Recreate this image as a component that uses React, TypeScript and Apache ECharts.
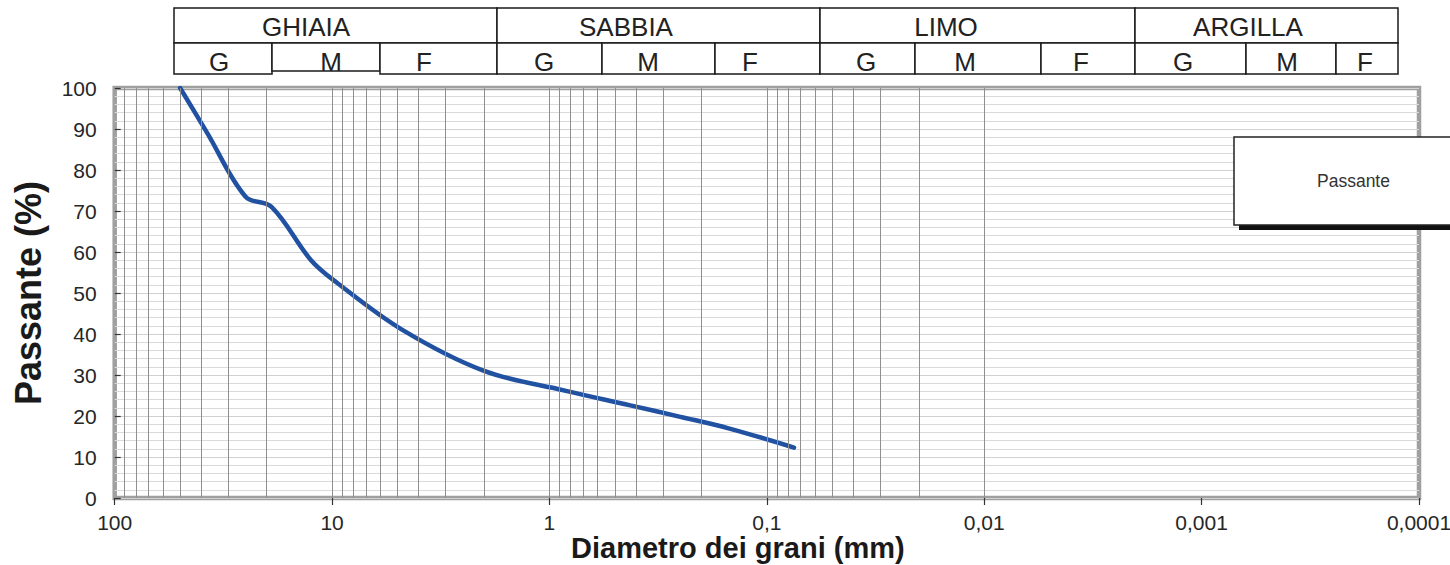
import React, { useEffect, useRef } from "react";
import * as echarts from "echarts";

// ---- data ----
const diameters = [50, 37.5, 25, 19, 12.5, 9.5, 4.75, 2, 0.85, 0.425, 0.25, 0.15, 0.075];
const passing = [100, 89, 73.5, 71, 58, 52.5, 41, 31, 26.2, 22.6, 19.8, 17, 12.3];
const seriesName = "Passante";
const classNames = ["GHIAIA", "SABBIA", "LIMO", "ARGILLA"];
const subClassNames = ["G", "M", "F"];
const xAxisTitle = "Diametro dei grani (mm)";
const yAxisTitle = "Passante (%)";
const gridMantissas = [1, 2, 3, 4, 5, 6, 7, 8, 9];
const gridExponents = [-4, -3, -2, -1, 0, 1];

// ---- layout (pixels) ----
const FONT = "'Liberation Sans', Arial, sans-serif";
const headTop = 8;
const headMid = 43;
const headBot = 74;
const classEdges = [174, 497, 820, 1135, 1398];
const subEdges = [
  [174, 272, 380, 497],
  [497, 602, 715, 820],
  [820, 915, 1041, 1135],
  [1135, 1246, 1336, 1398],
];
const classTextX = [306, 626, 946, 1248];
const subTextX = [
  [219, 331, 424],
  [544, 648, 750],
  [866, 965, 1081],
  [1183, 1287, 1365],
];

function buildHeader() {
  const els: any[] = [];
  const stroke = "#1a1a1a";
  const lw = 1.5;
  for (let i = 0; i < classNames.length; i++) {
    const x0 = classEdges[i];
    const x1 = classEdges[i + 1];
    els.push({
      type: "rect",
      shape: { x: x0, y: headTop, width: x1 - x0, height: headMid - headTop },
      style: { fill: "#fff", stroke, lineWidth: lw },
      silent: true,
    });
    els.push({
      type: "text",
      x: classTextX[i],
      y: (headTop + headMid) / 2 + 1,
      style: {
        text: classNames[i],
        fontSize: 26,
        fontFamily: FONT,
        fill: "#222",
        align: "center",
        verticalAlign: "middle",
      },
      silent: true,
    });
    for (let j = 0; j < subClassNames.length; j++) {
      const a = subEdges[i][j];
      const b = subEdges[i][j + 1];
      const bottom = i === 0 && j === 1 ? headBot - 3 : headBot;
      els.push({
        type: "rect",
        shape: { x: a, y: headMid, width: b - a, height: bottom - headMid },
        style: { fill: "#fff", stroke, lineWidth: lw },
        silent: true,
      });
      els.push({
        type: "text",
        x: subTextX[i][j],
        y: headMid + 19,
        style: {
          text: subClassNames[j],
          fontSize: 26,
          fontFamily: FONT,
          fill: "#222",
          align: "center",
          verticalAlign: "middle",
        },
        silent: true,
      });
    }
  }
  // legend shadow bar
  els.push({
    type: "rect",
    z: 3,
    shape: { x: 1239, y: 223, width: 230, height: 7 },
    style: { fill: "#111" },
    silent: true,
  });
  return els;
}

function formatDiam(v: number) {
  const n = Number(v.toPrecision(6));
  return String(n).replace(".", ",");
}

export default function App() {
  const ref = useRef<HTMLDivElement>(null);
  useEffect(() => {
    if (!ref.current) return;
    const chart = echarts.init(ref.current, undefined, { renderer: "svg" });
    const gridValues: number[] = [];
    for (const e of gridExponents) {
      for (const m of gridMantissas) {
        const v = Number((m * Math.pow(10, e)).toPrecision(6));
        if (v > 0.0001 && v < 100) gridValues.push(v);
      }
    }
    const option: any = {
      animation: false,
      backgroundColor: "#fff",
      textStyle: { fontFamily: FONT },
      grid: {
        left: 114.7,
        right: 31,
        top: 88,
        bottom: 67,
        show: true,
        borderColor: "#a0a0a0",
        borderWidth: 4.5,
        backgroundColor: "transparent",
        containLabel: false,
        outerBoundsMode: "none",
      },
      legend: {
        show: true,
        data: [seriesName],
        left: 1234,
        top: 137,
        icon: "rect",
        itemWidth: 0,
        itemHeight: 0,
        padding: [35, 90, 35, 78],
        backgroundColor: "#fff",
        borderColor: "#222",
        borderWidth: 1.5,
        borderRadius: 0,
        selectedMode: false,
        z: 5,
        textStyle: { fontSize: 17.5, color: "#333", fontFamily: FONT },
      },
      xAxis: {
        type: "log",
        logBase: 10,
        min: 0.0001,
        max: 100,
        inverse: true,
        splitNumber: 10,
        axisLine: { show: false },
        axisTick: { show: true, length: 7, lineStyle: { color: "#333", width: 1.2 } },
        axisLabel: {
          fontSize: 21,
          color: "#262626",
          margin: 14,
          showMinLabel: true,
          showMaxLabel: true,
          formatter: (v: number) => formatDiam(v),
        },
        splitLine: { show: false },
        name: xAxisTitle,
        nameLocation: "middle",
        nameGap: 35,
        nameMoveOverlap: false,
        nameTextStyle: {
          fontSize: 29,
          fontWeight: "bold",
          color: "#1a1a1a",
          padding: [0, 58, 0, 0],
        },
      },
      yAxis: {
        type: "value",
        min: 0,
        max: 100,
        interval: 10,
        axisLine: { show: false },
        axisTick: { show: true, inside: true, length: 6, lineStyle: { color: "#333", width: 1.2 } },
        axisLabel: { fontSize: 21, color: "#262626", margin: 18 },
        splitLine: { show: true, lineStyle: { color: "#d0d0d0", width: 1 } },
        minorTick: { show: false, splitNumber: 5 },
        minorSplitLine: { show: true, lineStyle: { color: "#dadada", width: 1 } },
        name: yAxisTitle,
        nameLocation: "middle",
        nameGap: 68,
        nameMoveOverlap: false,
        nameTextStyle: { fontSize: 36, fontWeight: "bold", color: "#1a1a1a" },
      },
      graphic: buildHeader(),
      series: [
        {
          name: "grid",
          type: "line",
          data: [],
          z: 1,
          silent: true,
          markLine: {
            silent: true,
            symbol: ["none", "none"],
            label: { show: false },
            lineStyle: { color: "#8f8f8f", width: 1, type: "solid" },
            emphasis: { disabled: true },
            data: gridValues.map((v) => ({ xAxis: v })),
          },
        },
        {
          name: seriesName,
          type: "line",
          z: 3,
          smooth: 0.35,
          showSymbol: false,
          symbol: "none",
          lineStyle: { color: "#2151a1", width: 4.5, cap: "round" },
          itemStyle: { color: "#2151a1" },
          data: diameters.map((d, i) => [d, passing[i]]),
        },
      ],
    };
    chart.setOption(option);
    return () => chart.dispose();
  }, []);
  return (
    <div
      ref={ref}
      style={{ position: "fixed", left: 0, top: 0, width: 1450, height: 565, background: "#fff" }}
    />
  );
}
